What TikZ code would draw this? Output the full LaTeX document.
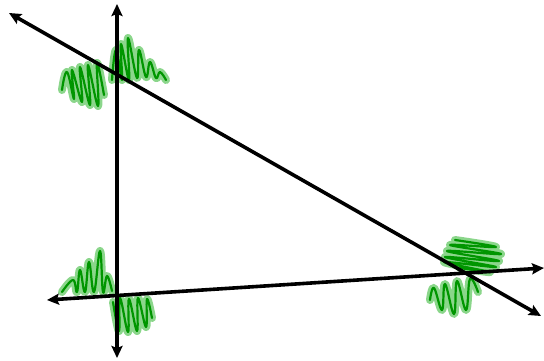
\documentclass[tikz,border=0pt]{standalone}
\usetikzlibrary{arrows.meta}
\definecolor{scribdark}{RGB}{0,150,0}
\definecolor{scriblight}{RGB}{100,200,100}
\tikzset{
  axisline/.style={line width=3.6pt, {Stealth[length=12pt,width=11pt,inset=2pt]}-{Stealth[length=12pt,width=11pt,inset=2pt]}},
  glow/.style={line width=8pt, scriblight, opacity=0.75, line cap=round, line join=round},
  core/.style={line width=2.2pt, scribdark, line cap=round, line join=round}
}
\newcommand{\myscrib}[1]{%
  \draw[glow] plot[smooth, tension=0.7] coordinates {#1};
  \draw[core] plot[smooth, tension=0.7] coordinates {#1};
}
\begin{document}
\begin{tikzpicture}[x=1pt,y=-1pt]
\useasboundingbox (0,0) rectangle (544,360);
% scribbles
\myscrib{(62,90) (67,72) (74,99) (72,70) (82,102) (80,67) (90,105) (88,65) (98,106) (97,63) (104,95)}
\myscrib{(112,80) (116,50) (122,80) (121,44) (129,80) (128,38) (137,78) (139,50) (146,77) (150,62) (156,78) (160,72) (166,80)}
\myscrib{(62,292) (73,280) (77,292) (80,270) (85,292) (89,262) (94,292) (100,251) (103,292) (107,276) (112,291)}
\myscrib{(113,302) (119,331) (120,298) (128,332) (129,299) (137,331) (138,298) (146,327) (147,299) (152,318)}
\myscrib{(455,240) (496,247) (450,245) (501,254) (447,251) (499,261) (445,257) (496,267) (444,262) (490,272) (460,268)}
\myscrib{(430,300) (434,288) (442,310) (445,284) (454,314) (457,281) (466,310) (470,279) (478,292)}
% line ends
\coordinate (vt) at (117,4);
\coordinate (vb) at (117,358);
\coordinate (dt) at (9,13);
\coordinate (db) at (541,316);
\coordinate (hl) at (47,300);
\coordinate (hr) at (544,268);
\draw[axisline] (vt) -- (vb);
\draw[axisline] (dt) -- (db);
\draw[axisline] (hl) -- (hr);
\end{tikzpicture}
\end{document}
